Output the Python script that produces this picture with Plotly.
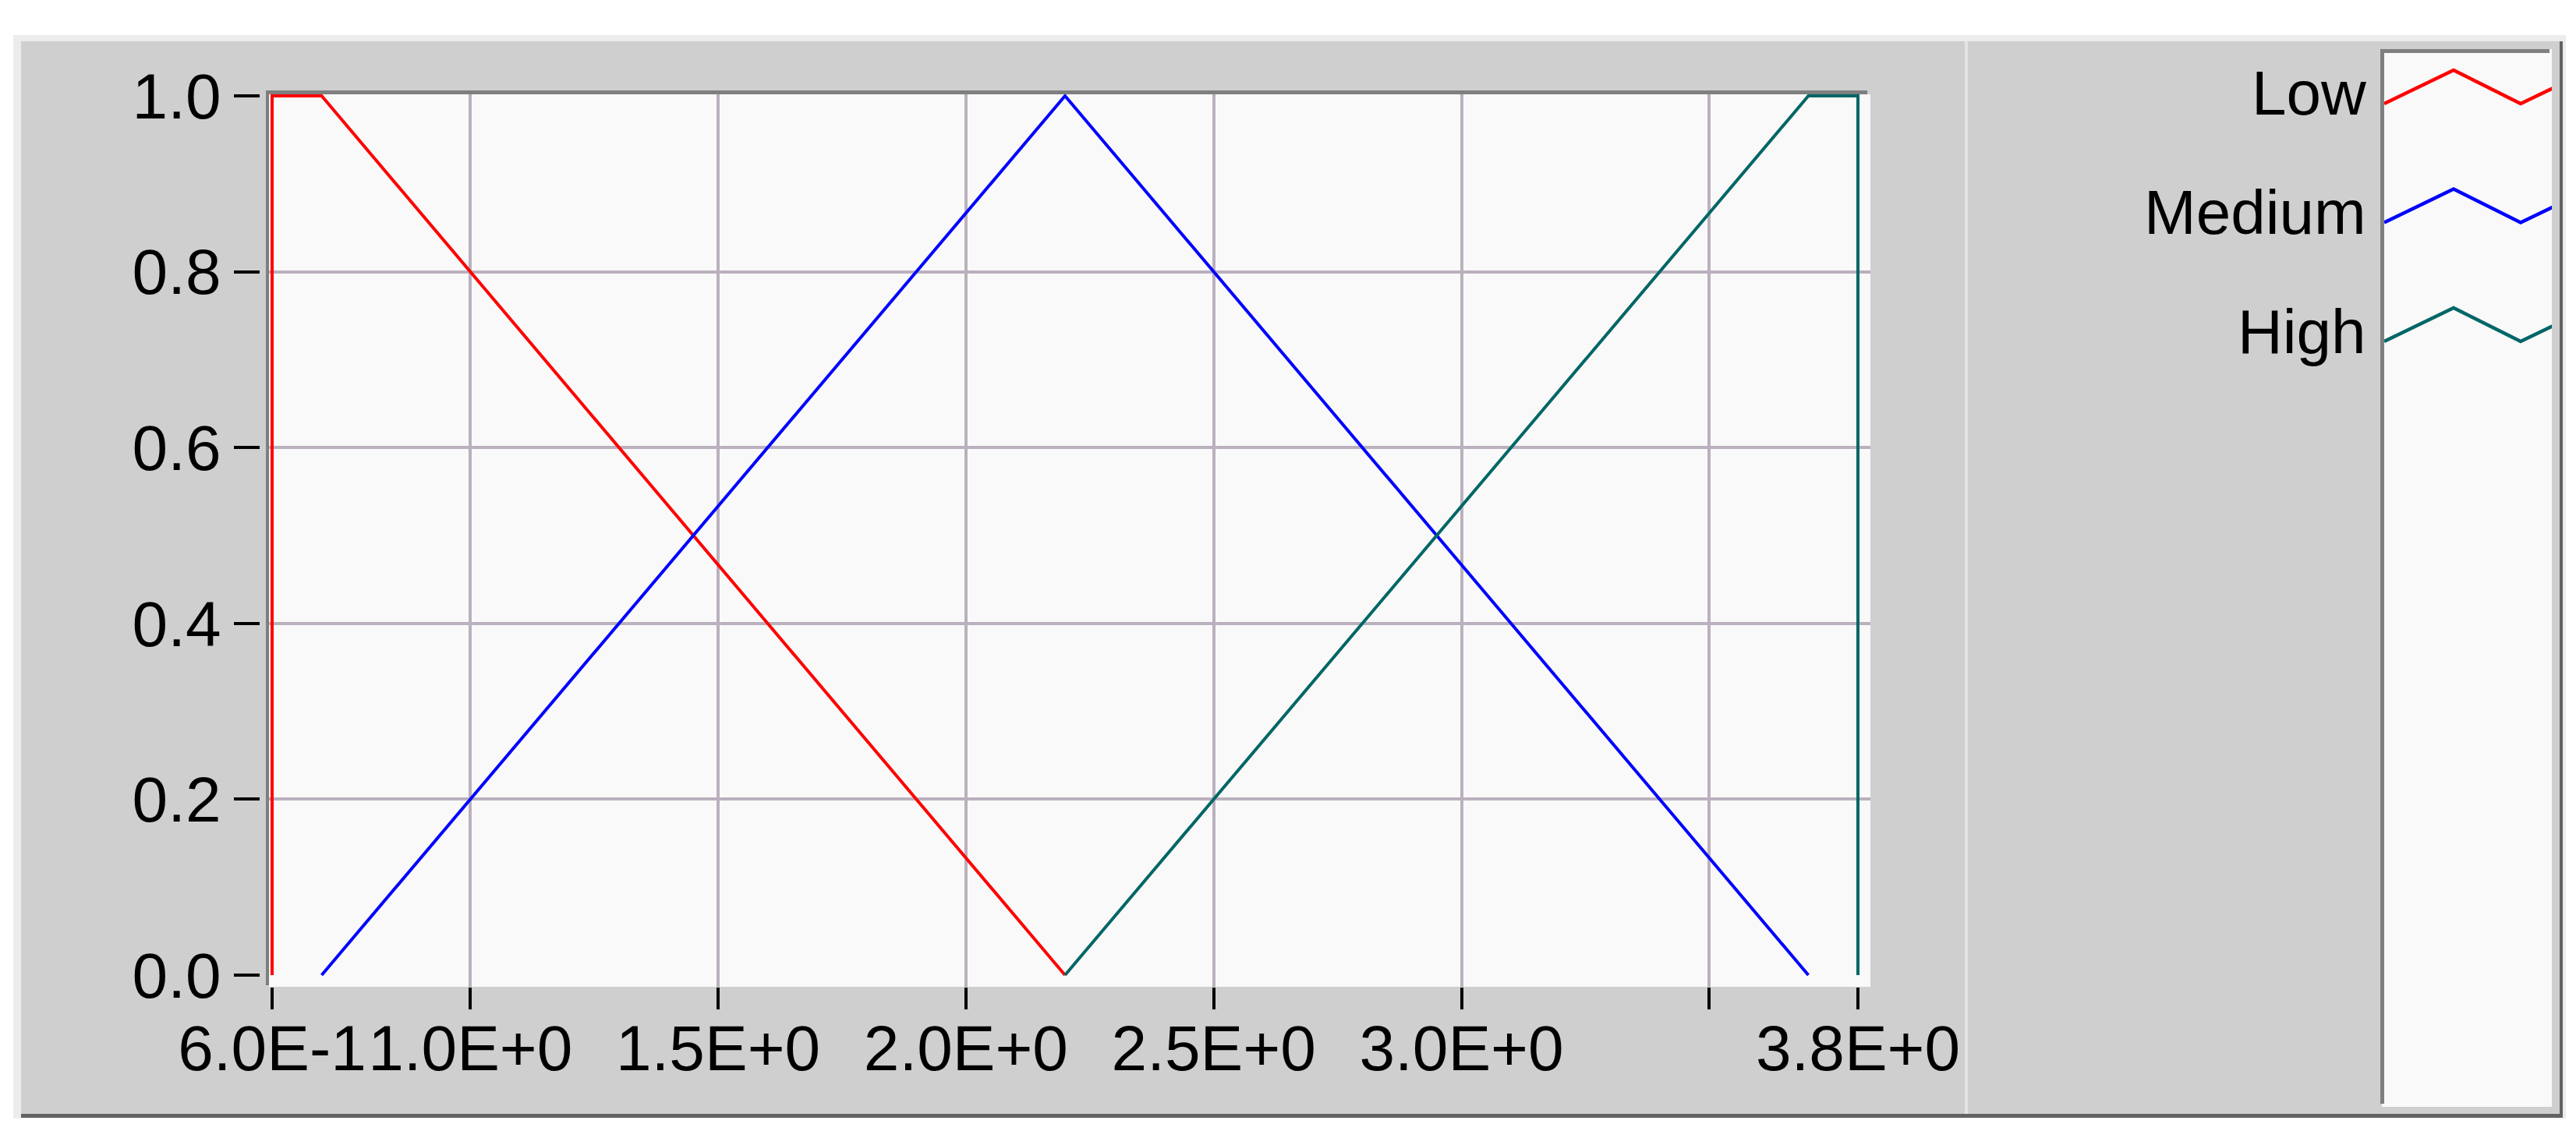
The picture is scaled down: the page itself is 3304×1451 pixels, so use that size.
import plotly.graph_objects as go

# membership functions
LOW_X = [0.6, 0.6, 0.7, 2.2]
LOW_Y = [0.0, 1.0, 1.0, 0.0]
MEDIUM_X = [0.7, 2.2, 3.7]
MEDIUM_Y = [0.0, 1.0, 0.0]
HIGH_X = [2.2, 3.7, 3.8, 3.8]
HIGH_Y = [0.0, 1.0, 1.0, 0.0]

SERIES_NAMES = ["Low", "Medium", "High"]

X_TICKS = [0.6, 1.0, 1.5, 2.0, 2.5, 3.0, 3.5, 3.8]
X_TICK_TEXT = ["6.0E-1", "1.0E+0", "1.5E+0", "2.0E+0", "2.5E+0", "3.0E+0", "", "3.8E+0"]
X_GRID = [1.0, 1.5, 2.0, 2.5, 3.0, 3.5]
Y_TICKS = [0.0, 0.2, 0.4, 0.6, 0.8, 1.0]
Y_TICK_TEXT = ["0.0", "0.2", "0.4", "0.6", "0.8", "1.0"]
Y_GRID = [0.2, 0.4, 0.6, 0.8]

W, H = 3304, 1451
FONT = "Liberation Sans, Arial, sans-serif"
COLORS = ["#FF0000", "#0000FF", "#006666"]
GRID = "#BBB0BE"
PANEL = "#CFCFCF"
FRAME = "#7F7F7F"
PLOT_BG = "#F9F9F9"


def px(x):
    return x / W


def py(y):
    return 1 - y / H


def rect(x0, y0, x1, y1, color):
    return dict(type="rect", xref="paper", yref="paper", layer="below",
                x0=px(x0), x1=px(x1), y0=py(y1), y1=py(y0),
                fillcolor=color, line_width=0)


fig = go.Figure()
for name, xs, ys, color in zip(SERIES_NAMES, [LOW_X, MEDIUM_X, HIGH_X],
                               [LOW_Y, MEDIUM_Y, HIGH_Y], COLORS):
    fig.add_trace(go.Scatter(x=xs, y=ys, mode="lines", name=name,
                             line=dict(color=color, width=4),
                             xaxis="x", yaxis="y", hoverinfo="skip"))

# custom legend: label on the left, zigzag sample in the box on the right
row_pitch = 152.5
for i, (name, color) in enumerate(zip(SERIES_NAMES, COLORS)):
    row = 58 + i * row_pitch
    fig.add_trace(go.Scatter(x=[0, 89, 175, 264],
                             y=[row + 7, row - 36, row + 7, row - 36],
                             mode="lines", line=dict(color=color, width=4.5),
                             xaxis="x2", yaxis="y2", hoverinfo="skip"))
    fig.add_annotation(x=px(3029), y=py(60 + row - 6), xref="paper", yref="paper",
                       text=name, showarrow=False,
                       xanchor="right", yanchor="middle",
                       font=dict(family=FONT, size=80, color="black"))

# x: 0.6 -> 341px, 3.8 -> 2375px ; y: 1.0 -> 115px, 0.0 -> 1243px
xs_scale = (2375 - 341) / 3.2
ys_scale = 1243 - 115

shapes = [
    rect(9, 37, 3283, 1427, "#ECECEC"),
    rect(19, 45, 3279, 1426, "#636363"),
    rect(19, 45, 3275, 1421, PANEL),
    rect(337, 113, 2391, 1258, PLOT_BG),
    rect(333, 108, 2387, 113, FRAME),
    rect(333, 108, 337, 1256, FRAME),
    rect(2512, 45, 2516, 1421, "#E4E4E4"),
    rect(3047, 55, 3265, 1412, PLOT_BG),
    rect(3045, 55, 3262, 60, FRAME),
    rect(3045, 55, 3050, 1408, FRAME),
]

tick_font = dict(family=FONT, size=82, color="black")

fig.update_layout(
    width=W, height=H,
    margin=dict(l=0, r=0, t=0, b=0),
    paper_bgcolor="white",
    plot_bgcolor="rgba(0,0,0,0)",
    showlegend=False,
    shapes=shapes,
    font=dict(family=FONT, size=80, color="black"),
    xaxis=dict(domain=[px(337), px(2391)],
               range=[0.6 - 4 / xs_scale, 3.8 + 16 / xs_scale],
               tickmode="array", tickvals=X_TICKS, ticktext=X_TICK_TEXT,
               ticks="outside", ticklen=28, tickwidth=4, tickcolor="black",
               ticklabelstandoff=-20,
               showgrid=False, zeroline=False, showline=False,
               minor=dict(tickmode="array", tickvals=X_GRID, showgrid=True,
                          gridcolor=GRID, gridwidth=4, ticks=""),
               tickfont=tick_font, fixedrange=True, automargin=False),
    yaxis=dict(domain=[py(1258), py(113)],
               range=[-15 / ys_scale, 1 + 2 / ys_scale],
               anchor="free", position=px(325),
               tickmode="array", tickvals=Y_TICKS, ticktext=Y_TICK_TEXT,
               ticks="outside", ticklen=33, tickwidth=4, tickcolor="black",
               showgrid=False, zeroline=False, showline=False,
               minor=dict(tickmode="array", tickvals=Y_GRID, showgrid=True,
                          gridcolor=GRID, gridwidth=4, ticks=""),
               tickfont=tick_font, fixedrange=True, automargin=False),
    xaxis2=dict(domain=[px(3050), px(3265)], range=[0, 215], visible=False,
                fixedrange=True),
    yaxis2=dict(domain=[py(1412), py(60)], range=[1352, 0], visible=False,
                fixedrange=True),
)

fig.write_html("out.html")
